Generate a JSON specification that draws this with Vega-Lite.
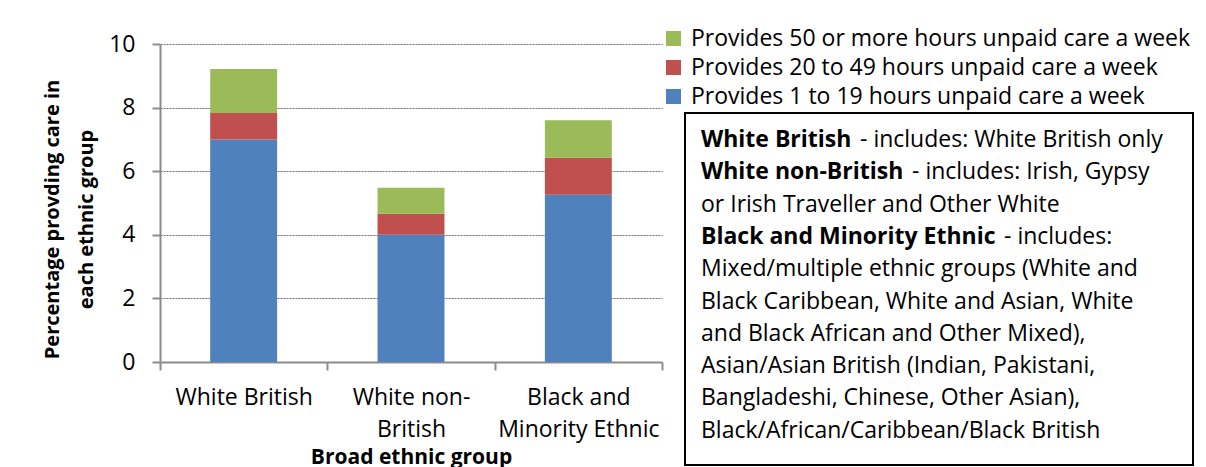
{
  "$schema": "https://vega.github.io/schema/vega-lite/v6.json",
  "padding": {"left": 42, "top": 27, "right": 0, "bottom": 0},
  "config": {
    "font": "Open Sans",
    "view": {"stroke": null},
    "text": {"font": "Open Sans"}
  },
  "datasets": {
    "care": [
      {"group": "White British", "care": "Provides 1 to 19 hours unpaid care a week", "rank": 1, "pct": 7.0},
      {"group": "White British", "care": "Provides 20 to 49 hours unpaid care a week", "rank": 2, "pct": 0.83},
      {"group": "White British", "care": "Provides 50 or more hours unpaid care a week", "rank": 3, "pct": 1.38},
      {"group": "White non-British", "care": "Provides 1 to 19 hours unpaid care a week", "rank": 1, "pct": 4.0},
      {"group": "White non-British", "care": "Provides 20 to 49 hours unpaid care a week", "rank": 2, "pct": 0.66},
      {"group": "White non-British", "care": "Provides 50 or more hours unpaid care a week", "rank": 3, "pct": 0.82},
      {"group": "Black and Minority Ethnic", "care": "Provides 1 to 19 hours unpaid care a week", "rank": 1, "pct": 5.26},
      {"group": "Black and Minority Ethnic", "care": "Provides 20 to 49 hours unpaid care a week", "rank": 2, "pct": 1.16},
      {"group": "Black and Minority Ethnic", "care": "Provides 50 or more hours unpaid care a week", "rank": 3, "pct": 1.18}
    ],
    "notes": [
      {"line": 1, "part": "bold", "text": "White British"},
      {"line": 1, "part": "after", "text": "- includes: White British only"},
      {"line": 2, "part": "bold", "text": "White non-British"},
      {"line": 2, "part": "after", "text": "- includes: Irish, Gypsy"},
      {"line": 3, "part": "plain", "text": "or Irish Traveller and Other White"},
      {"line": 4, "part": "bold", "text": "Black and Minority Ethnic"},
      {"line": 4, "part": "after", "text": "- includes:"},
      {"line": 5, "part": "plain", "text": "Mixed/multiple ethnic groups (White and"},
      {"line": 6, "part": "plain", "text": "Black Caribbean, White and Asian, White"},
      {"line": 7, "part": "plain", "text": "and Black African and Other Mixed),"},
      {"line": 8, "part": "plain", "text": "Asian/Asian British (Indian, Pakistani,"},
      {"line": 9, "part": "plain", "text": "Bangladeshi, Chinese, Other Asian),"},
      {"line": 10, "part": "plain", "text": "Black/African/Caribbean/Black British"}
    ]
  },
  "bounds": "flush",
  "spacing": 23,
  "hconcat": [
    {
      "width": 502,
      "height": 318,
      "data": {"name": "care"},
      "mark": {"type": "bar", "width": {"band": 0.4}},
      "encoding": {
        "x": {
          "field": "group",
          "type": "nominal",
          "sort": ["White British", "White non-British", "Black and Minority Ethnic"],
          "scale": {"paddingInner": 0, "paddingOuter": 0},
          "axis": {
            "title": "Broad ethnic group",
            "titleFontSize": 21,
            "titleFontWeight": "bold",
            "titleColor": "#000",
            "titlePadding": 5,
            "labelAngle": 0,
            "labelFontSize": 23,
            "labelColor": "#000",
            "labelLineHeight": 32,
            "labelPadding": 16,
            "labelExpr": "datum.label == 'White non-British' ? ['White non-', 'British'] : datum.label == 'Black and Minority Ethnic' ? ['Black and', 'Minority Ethnic'] : datum.label",
            "tickBand": "extent",
            "tickSize": 8,
            "tickColor": "#8c8c8c",
            "tickWidth": 2,
            "domainColor": "#8c8c8c",
            "domainWidth": 2
          }
        },
        "y": {
          "field": "pct",
          "type": "quantitative",
          "stack": "zero",
          "scale": {"domain": [0, 10]},
          "axis": {
            "values": [0, 2, 4, 6, 8, 10],
            "title": ["Percentage provding care in", "each ethnic group"],
            "titleFontSize": 20,
            "titleFontWeight": "bold",
            "titleColor": "#000",
            "titleLineHeight": 34,
            "titlePadding": 12,
            "titleY": 175,
            "labelFontSize": 23,
            "labelColor": "#000",
            "labelPadding": 17,
            "tickSize": 8,
            "tickColor": "#8c8c8c",
            "tickWidth": 2,
            "domainColor": "#8c8c8c",
            "domainWidth": 2,
            "grid": true,
            "gridColor": "#6e6e6e",
            "gridDash": [2, 1],
            "gridWidth": 1
          }
        },
        "color": {
          "field": "care",
          "type": "nominal",
          "scale": {
            "domain": [
              "Provides 50 or more hours unpaid care a week",
              "Provides 20 to 49 hours unpaid care a week",
              "Provides 1 to 19 hours unpaid care a week"
            ],
            "range": ["#9bbb59", "#c0504d", "#4f81bd"]
          },
          "legend": {
            "orient": "none",
            "legendX": 502,
            "legendY": -17,
            "title": null,
            "symbolType": "square",
            "symbolSize": 225,
            "symbolStrokeWidth": 0,
            "symbolOpacity": 1,
            "labelFontSize": 23,
            "labelColor": "#000",
            "labelOffset": 6,
            "labelLimit": 600,
            "rowPadding": 5
          }
        },
        "order": {"field": "rank", "type": "quantitative"}
      }
    },
    {
      "bounds": "flush",
      "spacing": 0,
      "vconcat": [
        {
          "width": 508,
          "height": 69,
          "data": {"values": [{}]},
          "mark": {"type": "text"},
          "encoding": {"text": {"value": ""}}
        },
        {
          "width": 508,
          "height": 352,
          "view": {"stroke": "#000", "strokeWidth": 2},
          "data": {"name": "notes"},
          "encoding": {
            "y": {
              "field": "line",
              "type": "quantitative",
              "scale": {"domain": [1, 10], "range": [34, 324.7]},
              "axis": null
            },
            "text": {"field": "text"}
          },
          "layer": [
            {
              "transform": [{"filter": "datum.part == 'plain'"}],
              "mark": {"type": "text", "align": "left", "baseline": "alphabetic", "fontSize": 23, "x": 16}
            },
            {
              "transform": [{"filter": "datum.part == 'bold'"}],
              "mark": {"type": "text", "align": "left", "baseline": "alphabetic", "fontSize": 23, "fontWeight": "bold", "x": 16}
            },
            {
              "transform": [{"filter": "datum.part == 'after' && datum.line == 1"}],
              "mark": {"type": "text", "align": "left", "baseline": "alphabetic", "fontSize": 23, "x": 175}
            },
            {
              "transform": [{"filter": "datum.part == 'after' && datum.line == 2"}],
              "mark": {"type": "text", "align": "left", "baseline": "alphabetic", "fontSize": 23, "x": 227}
            },
            {
              "transform": [{"filter": "datum.part == 'after' && datum.line == 4"}],
              "mark": {"type": "text", "align": "left", "baseline": "alphabetic", "fontSize": 23, "x": 319}
            }
          ]
        }
      ]
    }
  ]
}
